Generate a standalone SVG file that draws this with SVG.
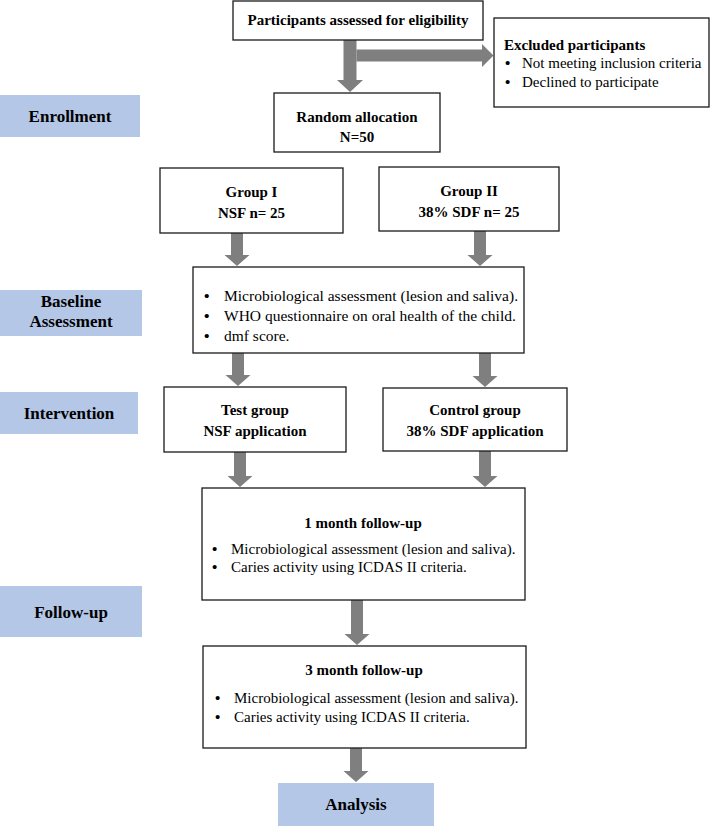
<svg xmlns="http://www.w3.org/2000/svg" width="711" height="826" viewBox="0 0 711 826">
<style>
  .box { fill: #ffffff; stroke: #1a1a1a; stroke-width: 1.3; }
  .lbl { fill: #b4c7e7; stroke: none; }
  .arr { fill: #7f7f7f; stroke: none; }
  .b { font-family: "Liberation Serif", "Times New Roman", serif; font-weight: bold; font-size: 15px; fill: #000; }
  .r { font-family: "Liberation Serif", "Times New Roman", serif; font-size: 15px; fill: #000; }
  .lt { font-family: "Liberation Serif", "Times New Roman", serif; font-weight: bold; font-size: 17px; fill: #000; }
  .c { text-anchor: middle; }
  .bu { font-weight: bold; }
</style>
<rect width="711" height="826" fill="#ffffff"/>

<g id="connectors">
  <polygon class="arr" points="343.5,40 356.5,40 356.5,80 363,80 350,92 337,80 343.5,80"/>
  <polygon class="arr" points="356.5,49.5 482,49.5 482,44 493.5,55.5 482,67 482,61.5 356.5,61.5"/>
  <polygon class="arr" points="231,233 243,233 243,255 249.5,255 237,266 224.5,255 231,255"/>
  <polygon class="arr" points="474,231 486,231 486,255 492.5,255 480,266 467.5,255 474,255"/>
  <polygon class="arr" points="232,353 244,353 244,375 250.5,375 238,386 225.5,375 232,375"/>
  <polygon class="arr" points="479,353 491,353 491,376 497.5,376 485,387 472.5,376 479,376"/>
  <polygon class="arr" points="234,452 246,452 246,476 252.5,476 240,487 227.5,476 234,476"/>
  <polygon class="arr" points="479,451 491,451 491,476 497.5,476 485,487 472.5,476 479,476"/>
  <polygon class="arr" points="351,600 363,600 363,634 369.5,634 357,645 344.5,634 351,634"/>
  <polygon class="arr" points="350,748 362,748 362,771 368.5,771 356,782 343.5,771 350,771"/>
</g>

<g id="lbl-enrollment">
  <rect class="lbl" x="0" y="95" width="140" height="42"/>
  <text class="lt c" x="70" y="122">Enrollment</text>
</g>
<g id="lbl-baseline">
  <rect class="lbl" x="0" y="290" width="142" height="46"/>
  <text class="lt c" x="71" y="307">Baseline</text>
  <text class="lt c" x="71" y="327">Assessment</text>
</g>
<g id="lbl-intervention">
  <rect class="lbl" x="0" y="392" width="138" height="42"/>
  <text class="lt c" x="69" y="419">Intervention</text>
</g>
<g id="lbl-followup">
  <rect class="lbl" x="0" y="586" width="142" height="51"/>
  <text class="lt c" x="71" y="618">Follow-up</text>
</g>
<g id="lbl-analysis">
  <rect class="lbl" x="278" y="783" width="156" height="43"/>
  <text class="lt c" x="356" y="810">Analysis</text>
</g>

<g id="n-eligibility">
  <rect class="box" x="233" y="1" width="250" height="39"/>
  <text class="b c" x="358" y="25">Participants assessed for eligibility</text>
</g>
<g id="n-excluded">
  <rect class="box" x="494" y="18" width="215" height="89"/>
  <text class="b" x="504" y="50">Excluded participants</text>
  <text class="r"><tspan class="bu" x="505" y="68">•</tspan><tspan x="522" y="68">Not meeting inclusion criteria</tspan></text>
  <text class="r"><tspan class="bu" x="505" y="87">•</tspan><tspan x="522" y="87">Declined to participate</tspan></text>
</g>
<g id="n-random">
  <rect class="box" x="274" y="93" width="166" height="59"/>
  <text class="b c" x="357" y="122">Random allocation</text>
  <text class="b c" x="357" y="142">N=50</text>
</g>
<g id="n-group1">
  <rect class="box" x="160" y="168" width="183" height="65"/>
  <text class="b c" x="251.5" y="197">Group I</text>
  <text class="b c" x="251.5" y="218">NSF n= 25</text>
</g>
<g id="n-group2">
  <rect class="box" x="379" y="167" width="180" height="64"/>
  <text class="b c" x="469" y="196">Group II</text>
  <text class="b c" x="469" y="217">38% SDF n= 25</text>
</g>
<g id="n-baseline">
  <rect class="box" x="193" y="267" width="331" height="86"/>
  <text class="r" style="font-size:15.5px"><tspan class="bu" x="204" y="301">•</tspan><tspan x="224" y="301">Microbiological assessment (lesion and saliva).</tspan></text>
  <text class="r" style="font-size:15.5px"><tspan class="bu" x="204" y="321">•</tspan><tspan x="224" y="321">WHO questionnaire on oral health of the child.</tspan></text>
  <text class="r" style="font-size:15.5px"><tspan class="bu" x="204" y="341">•</tspan><tspan x="224" y="341">dmf score.</tspan></text>
</g>
<g id="n-test">
  <rect class="box" x="164" y="387" width="182" height="65"/>
  <text class="b c" x="255" y="415">Test group</text>
  <text class="b c" x="255" y="436">NSF application</text>
</g>
<g id="n-control">
  <rect class="box" x="383" y="388" width="184" height="63"/>
  <text class="b c" x="475" y="415">Control group</text>
  <text class="b c" x="475" y="436">38% SDF application</text>
</g>
<g id="n-1month">
  <rect class="box" x="202" y="488" width="323" height="112"/>
  <text class="b c" x="363" y="528">1 month follow-up</text>
  <text class="r"><tspan class="bu" x="212" y="554">•</tspan><tspan x="231" y="554">Microbiological assessment (lesion and saliva).</tspan></text>
  <text class="r"><tspan class="bu" x="212" y="572">•</tspan><tspan x="231" y="572">Caries activity using ICDAS II criteria.</tspan></text>
</g>
<g id="n-3month">
  <rect class="box" x="203" y="646" width="323" height="102"/>
  <text class="b c" x="364" y="675">3 month follow-up</text>
  <text class="r"><tspan class="bu" x="215" y="703">•</tspan><tspan x="234" y="703">Microbiological assessment (lesion and saliva).</tspan></text>
  <text class="r"><tspan class="bu" x="215" y="722">•</tspan><tspan x="234" y="722">Caries activity using ICDAS II criteria.</tspan></text>
</g>
</svg>
